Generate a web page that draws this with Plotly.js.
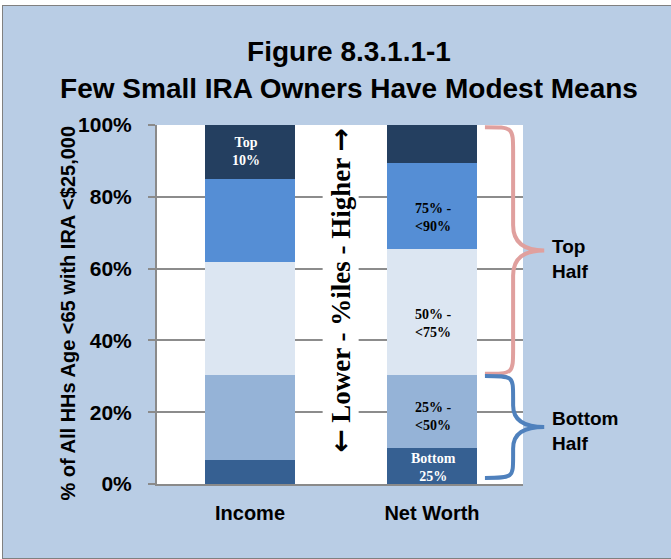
<!DOCTYPE html>
<html><head><meta charset="utf-8">
<script src="https://cdn.plot.ly/plotly-3.0.1.min.js"></script>
<style>
html,body{margin:0;padding:0;background:#fff;overflow:hidden;width:671px;height:559px;}
#chart{position:absolute;left:2px;top:5px;width:675px;height:552px;border:1px solid #808080;}
</style></head>
<body><div id="chart"></div>
<script>
const categories = ['Income', 'Net Worth'];
const segNames = ['Bottom 25%', '25% - <50%', '50% - <75%', '75% - <90%', 'Top 10%'];
const bottom25 = [6.7, 10.0];
const p25to50 = [23.7, 20.4];
const p50to75 = [31.5, 35.2];
const p75to90 = [23.1, 23.9];
const top10 = [15.0, 10.5];
const segColors = ['#366092', '#95B3D7', '#DCE6F2', '#558ED5', '#243F60'];
const yTickVals = [0, 20, 40, 60, 80, 100];
const yTickText = ['0%', '20%', '40%', '60%', '80%', '100%'];
const yRange = [0, 100];

const series = [bottom25, p25to50, p50to75, p75to90, top10];
const traces = series.map((vals, i) => ({
  type: 'bar', x: categories, y: vals, name: segNames[i],
  marker: {color: segColors[i], line: {width: 0}}, width: 0.495, hoverinfo: 'skip'
}));

function cumAt(ci, upto) { let s = 0; for (let k = 0; k < upto; k++) s += series[k][ci]; return s; }
function mid(ci, k) { return cumAt(ci, k) + series[k][ci] / 2; }
const toPaperY = v => (v - yRange[0]) / (yRange[1] - yRange[0]);

const serif = 'Liberation Serif, Times New Roman, serif';
const sans = 'Liberation Sans, Arial, sans-serif';

const segLabels = [
  {ci: 0, k: 4, text: 'Top<br>10%', color: '#ffffff', ys: 0},
  {ci: 1, k: 3, text: '75% -<br><90%', color: '#000000', ys: -12},
  {ci: 1, k: 2, text: '50% -<br><75%', color: '#000000', ys: -12},
  {ci: 1, k: 1, text: '25% -<br><50%', color: '#000000', ys: -5},
  {ci: 1, k: 0, text: 'Bottom<br>25%', color: '#ffffff', ys: -1}
];
const annotations = segLabels.map(l => ({
  x: categories[l.ci], y: mid(l.ci, l.k), xref: 'x', yref: 'y', text: l.text,
  showarrow: false, font: {family: serif, size: 14, color: l.color, weight: 'bold'}, yshift: l.ys, xshift: l.ci ? 1 : -4
}));
const arrowSpan = s => '<span style="font-family:DejaVu Sans;font-size:28px">' + s + '</span>';
annotations.push({
  x: 0.5, y: 53.8, xref: 'x', yref: 'y',
  text: arrowSpan('\u2190') + ' Lower - %iles - Higher ' + arrowSpan('\u2192'), textangle: -90,
  showarrow: false, font: {family: serif, size: 27, color: '#000', weight: 'bold'}, bgcolor: '#ffffff'
});
annotations.push({
  x: 0, xref: 'paper', xanchor: 'center', xshift: -90, y: 50, yref: 'y', yanchor: 'middle', yshift: -9,
  text: '% of All HHs Age <65 with IRA <$25,000',
  textangle: -90, showarrow: false, font: {family: sans, size: 20, color: '#000', weight: 'bold'}
});

const topHalfLow = cumAt(1, 2);
const topMid = (topHalfLow + 100) / 2;
const botMid = topHalfLow / 2;
function brace(x0, xv, xt, yb, yt, c) {
  yb = toPaperY(yb); yt = toPaperY(yt); c = c / (yRange[1] - yRange[0]);
  const ym = (yb + yt) / 2;
  const xq = xv + (xt - xv) * 0.35;
  const f = v => v.toFixed(4);
  return `M${f(x0)},${f(yt)} C${f(xv)},${f(yt)} ${f(xv)},${f(yt)} ${f(xv)},${f(yt - c)} L${f(xv)},${f(ym + c)} ` +
    `C${f(xv)},${f(ym + c * 0.3)} ${f(xq)},${f(ym)} ${f(xt)},${f(ym)} ` +
    `C${f(xq)},${f(ym)} ${f(xv)},${f(ym - c * 0.3)} ${f(xv)},${f(ym - c)} L${f(xv)},${f(yb + c)} ` +
    `C${f(xv)},${f(yb)} ${f(xv)},${f(yb)} ${f(x0)},${f(yb)}`;
}
const shapes = [
  {type: 'path', xref: 'paper', yref: 'paper', path: brace(0.896, 0.973, 1.058, topHalfLow + 0.3, 99.4, 7),
   line: {color: '#E0A09E', width: 4}},
  {type: 'path', xref: 'paper', yref: 'paper', path: brace(0.896, 0.973, 1.058, 1.7, topHalfLow - 0.3, 6),
   line: {color: '#4F81BD', width: 4}}
];
annotations.push({x: 1.074, xref: 'paper', xanchor: 'left', y: topMid, yref: 'y', yshift: -9,
  text: 'Top<br>Half', align: 'left', showarrow: false, font: {family: sans, size: 19, color: '#000', weight: 'bold'}});
annotations.push({x: 1.074, xref: 'paper', xanchor: 'left', y: botMid, yref: 'y', yshift: -2,
  text: 'Bottom<br>Half', align: 'left', showarrow: false, font: {family: sans, size: 19, color: '#000', weight: 'bold'}});

const layout = {
  width: 675, height: 552,
  margin: {l: 154, r: 155, t: 119, b: 74},
  paper_bgcolor: '#B9CDE5', plot_bgcolor: '#ffffff',
  barmode: 'stack', showlegend: false,
  title: {text: 'Figure 8.3.1.1-1<br>Few Small IRA Owners Have Modest Means',
    x: 0.5126, xanchor: 'center', xref: 'container', y: 0.9, yanchor: 'middle', yref: 'container',
    font: {family: sans, size: 28, color: '#000', weight: 'bold'}},
  xaxis: {type: 'category', range: [-0.511, 1.5], showgrid: false, showline: true, linecolor: '#8a8a8a', linewidth: 2,
    ticks: '', tickfont: {family: sans, size: 20, color: '#000', weight: 'bold'}, ticklabelstandoff: 10, fixedrange: true},
  yaxis: {range: yRange, tickvals: yTickVals, ticktext: yTickText,
    showgrid: true, gridcolor: '#8c8c8c', gridwidth: 2, showline: true, linecolor: '#8a8a8a', linewidth: 2,
    ticks: 'outside', ticklen: 7, tickwidth: 2, tickcolor: '#8a8a8a', zeroline: false,
    tickfont: {family: sans, size: 21, color: '#000', weight: 'bold'}, ticklabelstandoff: 12},
  annotations: annotations, shapes: shapes
};
Plotly.newPlot('chart', traces, layout, {displayModeBar: false, staticPlot: true});
</script></body></html>
